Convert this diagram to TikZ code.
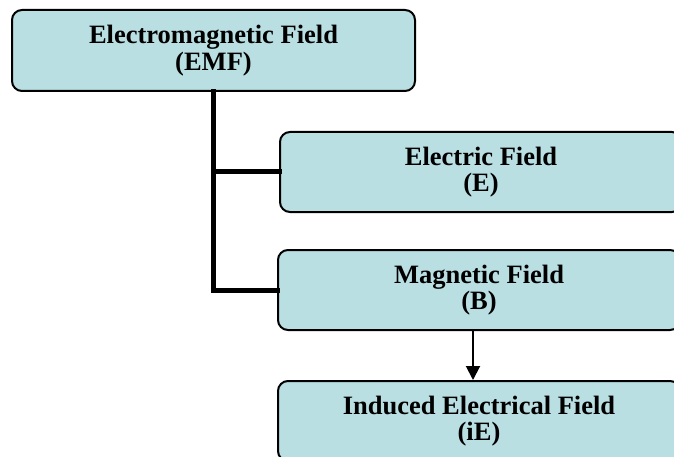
\documentclass[tikz,border=0pt]{standalone}
\usepackage{fontspec}
\setmainfont{Liberation Serif}
\usetikzlibrary{arrows.meta}
\definecolor{boxfill}{RGB}{185,223,227}
\tikzset{
  fieldbox/.style={draw=black, line width=2pt, fill=boxfill, rounded corners=10pt,
    inner sep=0pt, align=center, font=\bfseries\fontsize{26.5}{26.5}\selectfont},
  trunk/.style={line width=5pt, line cap=rect},
  flow/.style={line width=2pt, -{Triangle[length=14pt,width=14pt]}}
}
\begin{document}
\begin{tikzpicture}[x=1pt,y=-1pt]
\useasboundingbox (0,0) rectangle (674,457);
\clip (0,0) rectangle (674,457);
\node[fieldbox, minimum width=403pt, minimum height=81pt] (emf) at (213.5,50.5) {Electromagnetic Field\\(EMF)};
\node[fieldbox, minimum width=402pt, minimum height=80pt] (e) at (481,172) {Electric Field\\(E)};
\node[fieldbox, minimum width=402pt, minimum height=80pt] (b) at (479,290) {Magnetic Field\\(B)};
\node[fieldbox, minimum width=402pt, minimum height=80pt] (ie) at (479,421) {Induced Electrical Field\\(iE)};
\draw[trunk] (emf.south) |- (b.west);
\draw[trunk] (emf.south |- e.west) -- (e.west);
\draw[flow] ([xshift=-6pt]b.south) -- ([xshift=-6pt]ie.north);
\end{tikzpicture}
\end{document}
